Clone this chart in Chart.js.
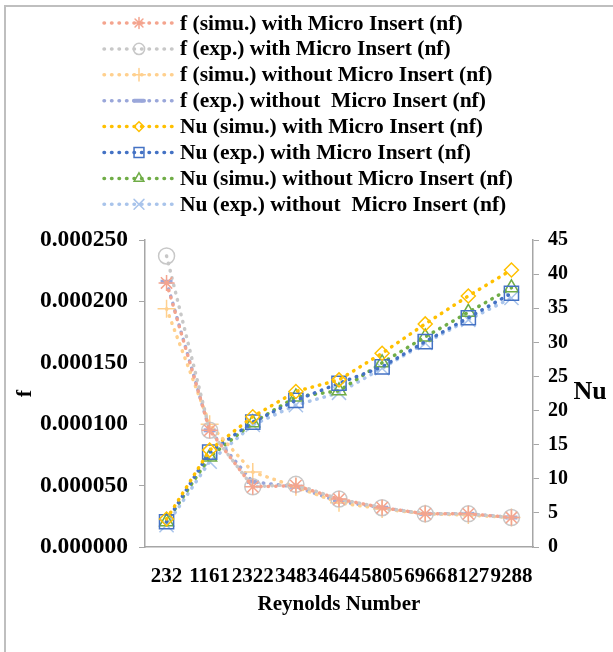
<!DOCTYPE html>
<html>
<head>
<meta charset="utf-8">
<script src="https://cdn.jsdelivr.net/npm/chart.js@4.4.1/dist/chart.umd.min.js"></script>
<style>
  html, body { margin: 0; padding: 0; background: #fff; }
  #wrap { width: 613px; height: 652px; }
</style>
</head>
<body>
<div id="wrap"><canvas id="chart" width="613" height="652"></canvas></div>
<script>
const reynolds = ["232", "1161", "2322", "3483", "4644", "5805", "6966", "8127", "9288"];

// friction factor (left axis)
const fSimWith = [0.000215, 0.000095, 0.000049, 0.000050, 0.000039, 0.000032, 0.000027, 0.000027, 0.000024];
const fExpWith = [0.000237, 0.000095, 0.000049, 0.000051, 0.000039, 0.000032, 0.000027, 0.000027, 0.000024];
const fSimWithout = [0.000194, 0.000100, 0.000061, 0.000049, 0.000036, 0.000031, 0.000027, 0.000026, 0.000024];
const fExpWithout = [0.000216, 0.000095, 0.000053, 0.000049, 0.000037, 0.000032, 0.000027, 0.000027, 0.000024];

// Nusselt number (right axis)
const nuSimWith = [4.1, 14.2, 19.1, 22.8, 24.5, 28.4, 32.7, 36.8, 40.6];
const nuExpWith = [3.7, 13.9, 18.3, 21.5, 24.0, 26.4, 30.1, 33.6, 37.2];
const nuSimWithout = [3.7, 13.2, 18.2, 22.0, 22.9, 27.0, 30.8, 34.4, 38.0];
const nuExpWithout = [3.2, 12.5, 17.9, 20.8, 22.6, 26.2, 29.9, 33.3, 36.5];

const FONT = "Liberation Serif";
const AXIS_GREY = "#A6A6A6";

function series(label, data, color, axis, pointStyle, radius, extra) {
  return Object.assign({
    label,
    data,
    yAxisID: axis,
    borderColor: color,
    borderWidth: 3.5,
    borderDash: [0.5, 7],
    borderCapStyle: "round",
    fill: false,
    tension: 0,
    pointStyle,
    pointRadius: radius,
    pointBorderColor: color,
    pointBackgroundColor: "rgba(0,0,0,0)",
    pointBorderWidth: 1.5,
    legendRadius: radius * 0.7,
  }, extra || {});
}

const datasets = [
  series("f (simu.) with Micro Insert (nf)", fSimWith, "#F4A48E", "y", "star", 8),
  series("f (exp.) with Micro Insert (nf)", fExpWith, "#C8C8C8", "y", "circle", 8),
  series("f (simu.) without Micro Insert (nf)", fSimWithout, "#FFD08E", "y", "cross", 9),
  series("f (exp.) without  Micro Insert (nf)", fExpWithout, "#9AA7DA", "y", "line", 6,
    { pointBorderWidth: 4, legendRadius: 5 }),
  series("Nu (simu.) with Micro Insert (nf)", nuSimWith, "#FFC000", "y1", "rectRot", 7),
  series("Nu (exp.) with Micro Insert (nf)", nuExpWith, "#4472C4", "y1", "rect", 10),
  series("Nu (simu.) without Micro Insert (nf)", nuSimWithout, "#70AD47", "y1", "triangle", 8),
  series("Nu (exp.) without  Micro Insert (nf)", nuExpWithout, "#A9C4EB", "y1", "crossRot", 10),
];

// legend rows stacked above the plot, one entry per line
const legendRows = {
  id: "legendRows",
  afterDraw(chart) {
    const { ctx } = chart;
    chart.data.datasets.forEach((ds, i) => {
      const y = 23 + i * 25.9;
      ctx.save();
      ctx.strokeStyle = ds.borderColor;
      ctx.lineWidth = ds.borderWidth;
      ctx.lineCap = "round";
      ctx.setLineDash(ds.borderDash);
      ctx.beginPath();
      ctx.moveTo(104, y);
      ctx.lineTo(173, y);
      ctx.stroke();
      ctx.setLineDash([]);
      ctx.strokeStyle = ds.pointBorderColor;
      ctx.fillStyle = ds.pointBackgroundColor;
      ctx.lineWidth = ds.pointBorderWidth;
      Chart.helpers.drawPoint(ctx, {
        pointStyle: ds.pointStyle,
        radius: ds.legendRadius,
        borderWidth: ds.pointBorderWidth,
        rotation: 0,
      }, 139, y);
      ctx.fillStyle = "#000";
      ctx.font = `bold 21.5px "${FONT}"`;
      ctx.textBaseline = "middle";
      ctx.textAlign = "left";
      ctx.fillText(ds.label, 180, y + 1);
      ctx.restore();
    });
  },
};

// outer frame and the horizontal "Nu" title
const frameAndNu = {
  id: "frameAndNu",
  beforeDraw(chart) {
    const { ctx } = chart;
    ctx.save();
    ctx.strokeStyle = "#BFBFBF";
    ctx.lineWidth = 2;
    ctx.beginPath();
    ctx.moveTo(5, 652);
    ctx.lineTo(5, 6);
    ctx.lineTo(613, 6);
    ctx.stroke();
    ctx.restore();
  },
  afterDraw(chart) {
    const { ctx } = chart;
    ctx.save();
    ctx.fillStyle = "#000";
    ctx.font = `bold 26px "${FONT}"`;
    ctx.textAlign = "center";
    ctx.textBaseline = "middle";
    ctx.fillText("Nu", 590, 392);
    ctx.restore();
  },
};

const xTickFont = { family: FONT, weight: "bold", size: 21 };
const leftTickFont = { family: FONT, weight: "bold", size: 23.5 };
const rightTickFont = { family: FONT, weight: "bold", size: 20 };

new Chart(document.getElementById("chart"), {
  type: "line",
  data: { labels: reynolds, datasets },
  options: {
    responsive: false,
    animation: false,
    layout: { padding: { top: 240, left: 5, right: 0, bottom: 0 } },
    plugins: {
      legend: { display: false },
      tooltip: { enabled: false },
    },
    scales: {
      x: {
        offset: true,
        grid: { display: false },
        border: { display: true, color: AXIS_GREY, width: 1.5 },
        ticks: { autoSkip: false, maxRotation: 0, minRotation: 0, padding: 9, color: "#000", font: xTickFont },
        title: {
          display: true,
          text: "Reynolds Number",
          color: "#000",
          font: { family: FONT, weight: "bold", size: 21 },
          padding: { top: 0, bottom: 35 },
        },
        afterFit(scale) { scale.height = 105; },
      },
      y: {
        position: "left",
        min: 0,
        max: 0.00025,
        grid: { drawOnChartArea: false, drawTicks: true, tickLength: 6, color: AXIS_GREY },
        border: { display: true, color: AXIS_GREY, width: 1.5 },
        ticks: {
          stepSize: 0.00005,
          padding: 11,
          color: "#000",
          font: leftTickFont,
          callback: (v) => Number(v).toFixed(6),
        },
        title: {
          display: true,
          text: "f",
          color: "#000",
          font: { family: FONT, weight: "bold", size: 22 },
          padding: { top: 7, bottom: 0 },
        },
        afterFit(scale) { scale.width = 140; },
      },
      y1: {
        position: "right",
        min: 0,
        max: 45,
        grid: { drawOnChartArea: false, drawTicks: true, tickLength: 6, color: AXIS_GREY },
        border: { display: true, color: AXIS_GREY, width: 1.5 },
        ticks: { stepSize: 5, padding: 9, color: "#000", font: rightTickFont },
        afterFit(scale) { scale.width = 80; },
      },
    },
  },
  plugins: [frameAndNu, legendRows],
});
</script>
</body>
</html>
